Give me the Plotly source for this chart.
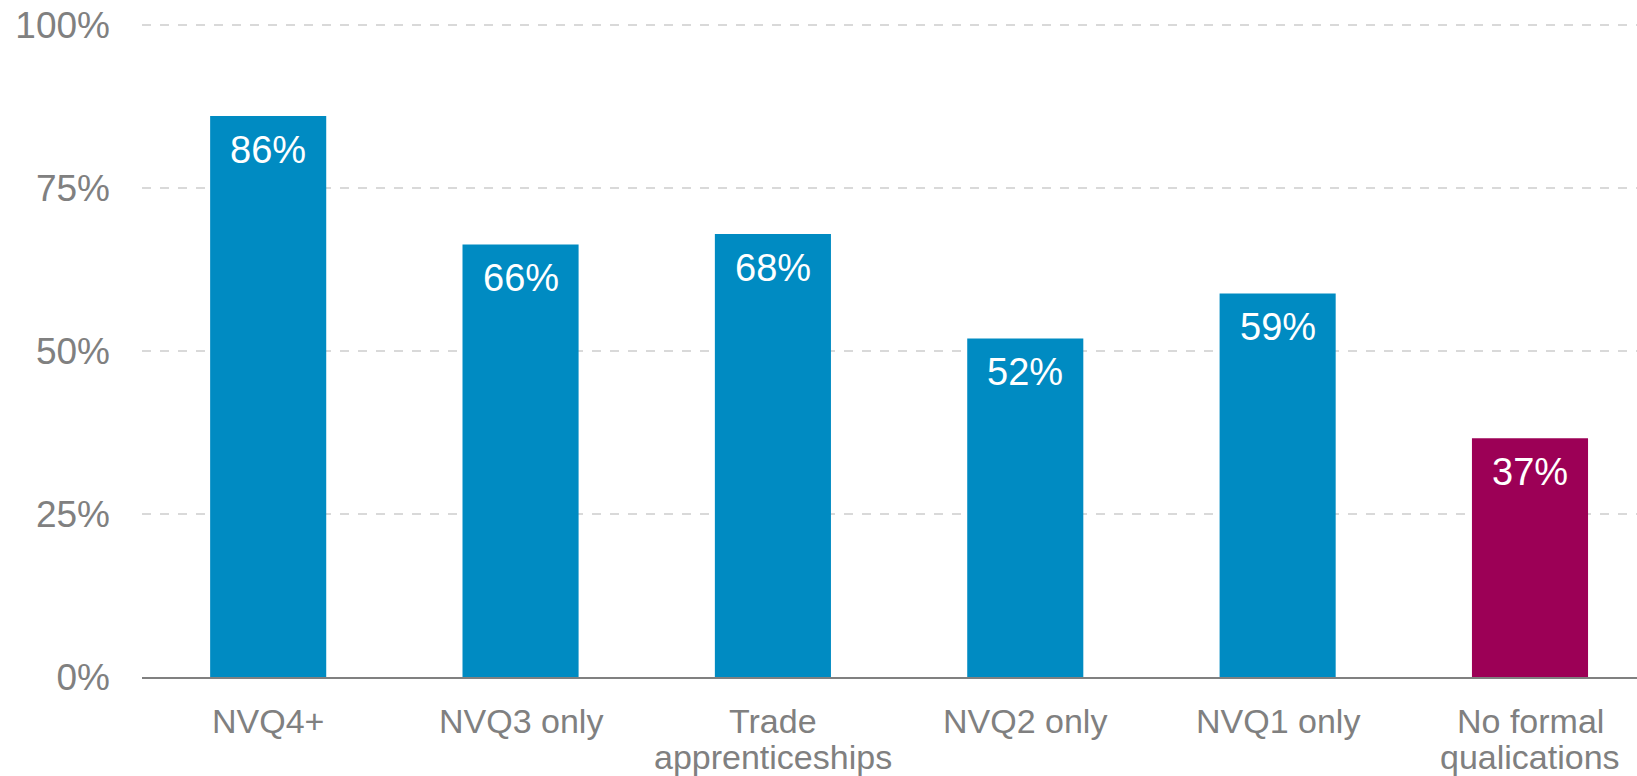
import plotly.graph_objects as go

categories = ["NVQ4+", "NVQ3 only", "Trade apprenticeships", "NVQ2 only", "NVQ1 only", "No formal qualications"]
category_lines = [["NVQ4+"], ["NVQ3 only"], ["Trade", "apprenticeships"], ["NVQ2 only"], ["NVQ1 only"], ["No formal", "qualications"]]
values = [0.86, 0.663, 0.679, 0.519, 0.588, 0.366]
labels = ["86%", "66%", "68%", "52%", "59%", "37%"]
bar_colors = ["#008BC2", "#008BC2", "#008BC2", "#008BC2", "#008BC2", "#9C0056"]
y_ticks = [0, 0.25, 0.5, 0.75, 1.0]
y_tick_labels = ["0%", "25%", "50%", "75%", "100%"]

FONT = "Liberation Sans, Arial, sans-serif"
GREY = "#808080"

fig = go.Figure()
fig.add_trace(go.Bar(
    x=categories, y=values, marker=dict(color=bar_colors, line=dict(width=0)),
    width=0.46, hoverinfo="skip",
))

# value labels inside the bars, near the top
for c, v, t in zip(categories, values, labels):
    fig.add_annotation(x=c, y=v, text=t, showarrow=False, yanchor="top", yshift=-11,
                       font=dict(family=FONT, size=38, color="white"))

# category labels under the axis (tight line spacing like the reference)
for c, lines in zip(categories, category_lines):
    for i, line in enumerate(lines):
        fig.add_annotation(x=c, y=0, text=line, showarrow=False, yanchor="top",
                           yshift=-23 - 36 * i,
                           font=dict(family=FONT, size=34, color=GREY))

fig.update_layout(
    width=1637, height=776,
    margin=dict(l=142, r=0, t=22, b=99),
    paper_bgcolor="white", plot_bgcolor="white",
    showlegend=False,
    font=dict(family=FONT, color=GREY),
)
fig.update_xaxes(
    type="category", range=[-0.5, 5.424], automargin=False,
    showgrid=False, showline=True, linecolor=GREY, linewidth=2,
    ticks="", showticklabels=False,
)
fig.update_yaxes(
    range=[0, 1.004], tickvals=y_ticks, ticktext=y_tick_labels, automargin=False,
    showgrid=True, gridcolor="#D9D9D9", griddash="dash", gridwidth=1.5,
    zeroline=False, showline=False, ticks="", ticklabeloverflow="allow",
    tickfont=dict(size=37, color=GREY), ticklabelstandoff=31,
)

fig.write_html(
    "out.html",
    config={"displayModeBar": False},
    post_script="document.body.style.margin='0';document.body.style.overflow='hidden';",
)
